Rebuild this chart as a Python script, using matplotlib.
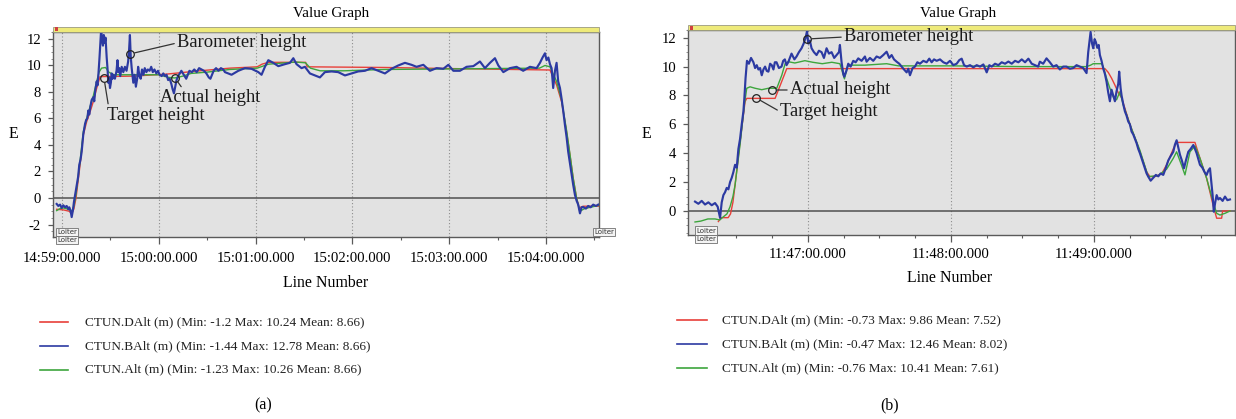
import matplotlib
matplotlib.use("Agg")
import matplotlib.pyplot as plt
from matplotlib.patches import Rectangle
from matplotlib.lines import Line2D
from matplotlib.ticker import FixedLocator, FixedFormatter, MultipleLocator

plt.rcParams['font.family'] = ['Liberation Serif', 'DejaVu Serif']
plt.rcParams['axes.unicode_minus'] = False

# ---------------------------------------------------------------- data (a)
# time in seconds after 14:59:00
a_tick_sec = [0, 60, 120, 180, 240, 300]
a_tick_labels = ['14:59:00.000', '15:00:00.000', '15:01:00.000',
                 '15:02:00.000', '15:03:00.000', '15:04:00.000']

a_dalt_t = [-3.3, 1.0, 4.5, 6.0, 7.4, 8.7, 11.2, 13.2, 15.3, 17.4, 19.4, 21.5,
            23.6, 44.2, 64.9, 85.5, 104, 121, 124, 128, 151, 152, 200, 250,
            302.5, 306.6, 309.7, 312.8, 314.9, 316.9, 319.0, 320.6, 323, 333]
a_dalt_v = [-0.85, -0.9, -1.0, -1.2, -0.8, 0.0, 2.5, 4.75, 5.76, 6.5, 7.27, 8.28,
            9.16, 9.2, 9.35, 9.6, 9.8, 9.9, 10.1, 10.24, 10.24, 9.9, 9.85, 9.75,
            9.66, 8.53, 7.27, 5.0, 3.25, 1.49, 0.0, -0.75, -0.62, -0.62]

a_alt_t = [-3.3, -1.2, 1.0, 3.9, 6.0, 7.4, 8.7, 11.2, 13.2, 15.3, 17.4, 19.4,
           21.5, 23.0, 24.5, 27.0, 29.0, 32.0, 45, 60, 66, 70, 75, 80, 90, 104,
           121, 128, 145, 151, 154, 160, 175, 200, 250, 296, 299.4, 302.5,
           306.6, 309.7, 312.8, 314.9, 316.9, 319.0, 321.0, 324.0, 333]
a_alt_v = [-0.95, -0.8, -0.75, -0.85, -1.0, -0.6, 0.3, 2.8, 5.0, 6.0, 6.9, 7.7,
           8.8, 9.5, 9.8, 9.85, 9.5, 9.3, 9.3, 9.3, 9.1, 9.06, 9.2, 9.4, 9.5, 9.7,
           9.8, 10.1, 10.26, 10.2, 9.8, 9.6, 9.6, 9.7, 9.75, 9.8, 10.0, 9.9,
           8.8, 7.4, 5.1, 3.3, 1.5, 0.0, -1.0, -0.8, -0.55]

a_balt_t = [-3.3, -2.3, -1.2, -0.2, 0.8, 1.9, 2.9, 3.9, 4.5, 5.3, 6.0, 6.8, 7.4,
            8.2, 9.1, 10.0, 10.7, 11.5, 12.2, 13.2, 14.3, 15.0, 15.7, 16.3, 16.9,
            17.6, 18.4, 19.4, 20.0, 20.5, 21.5, 22.0, 22.5, 23.2, 23.8, 24.3,
            24.8, 25.4, 25.9, 26.5, 27.0, 27.7, 28.2, 28.7, 29.2, 29.75, 30.3,
            30.8, 31.3, 31.8, 32.8, 33.8, 34.4, 34.9, 35.5, 36.1, 37.0, 38.0,
            39.0, 40.0, 41.0, 41.6, 42.1, 42.6, 43.2, 44.2, 45.0, 45.8, 46.6,
            47.2, 48.0, 48.8, 49.6, 50.5, 51.3, 52.3, 53.2, 54.3, 55.3, 56.3,
            57.3, 58.5, 59.5, 60.5, 61.8, 62.8, 63.8, 64.8, 65.8, 66.8, 67.8,
            68.6, 69.4, 70.2, 71.0, 72.0, 73.0, 74.0, 75.0, 76.0, 77.0, 78.0,
            79.0, 80.5, 82.0, 83.5, 85.0, 86.5, 88.0, 89.5, 91.0, 92.0, 93.0,
            94.0, 95.5, 97.0, 98.5, 100.0, 101.0, 105.1, 109.3, 113.4, 117.5,
            121.7, 123.7, 125.8, 127.9, 131.0, 134.1, 138.2, 141.3, 143.4, 145.4,
            148.5, 150.6, 153.7, 156.8, 159.9, 163.0, 167.1, 171.2, 175.4, 179.5,
            183.6, 187.8, 191.9, 196.0, 200.2, 204.3, 208.4, 212.6, 216.7, 219.8,
            224.0, 228.1, 232.2, 236.4, 239.5, 242.6, 246.7, 250.8, 255.0, 259.1,
            262.2, 265.3, 268.4, 270.5, 273.6, 277.7, 281.8, 285.9, 290.1, 294.2,
            296.3, 297.9, 299.4, 300.4, 301.5, 302.5, 303.5, 304.5, 305.6, 306.6,
            307.6, 308.7, 309.7, 310.7, 311.8, 312.8, 313.8, 314.9, 315.9, 316.9,
            318.0, 319.0, 320.0, 321.1, 322.1, 323.1, 324.8, 326.2, 327.7, 329.3,
            331.0, 332.4]
a_balt_v = [-0.45, -0.6, -0.5, -0.75, -0.55, -0.7, -0.6, -0.85, -0.7, -0.95, -1.44,
            -0.9, -0.3, 0.3, 1.0, 1.6, 2.5, 2.9, 3.5, 4.8, 5.6, 5.9, 6.0, 6.6, 6.3,
            6.9, 7.4, 7.6, 7.3, 8.0, 8.8, 8.5, 9.2, 10.5, 11.8, 12.78, 11.9, 11.5,
            12.3, 11.7, 12.1, 10.6, 9.8, 8.7, 9.1, 8.3, 8.7, 9.4, 9.0, 9.3, 9.0,
            9.6, 10.4, 9.5, 9.8, 9.2, 9.9, 9.5, 9.9, 9.6, 10.3, 11.2, 12.3, 10.7,
            9.8, 8.7, 9.3, 8.4, 9.0, 9.9, 9.2, 9.0, 9.7, 9.3, 9.8, 9.5, 9.7, 9.6,
            9.9, 9.5, 9.7, 9.4, 9.6, 9.3, 9.2, 9.4, 9.2, 9.3, 8.9, 9.0, 8.6, 8.2,
            7.9, 8.4, 8.9, 9.2, 9.4, 9.6, 9.4, 9.2, 9.0, 9.3, 9.6, 9.5, 9.7, 9.5,
            9.8, 9.7, 9.6, 9.4, 9.1, 9.0, 9.3, 9.6, 9.8, 9.6, 9.8, 9.7, 9.5, 9.3,
            9.6, 9.8, 9.75, 9.5, 9.3, 9.9, 10.4, 10.2, 9.95, 10.1, 10.2, 10.55,
            10.1, 9.8, 9.9, 9.4, 9.25, 9.1, 9.5, 9.55, 9.5, 9.25, 9.4, 9.55, 9.6,
            9.8, 9.6, 9.4, 9.75, 10.0, 10.2, 10.05, 9.9, 10.05, 9.6, 9.8, 9.75,
            10.05, 9.6, 9.6, 9.9, 9.95, 10.3, 9.8, 10.2, 10.55, 10.0, 9.5, 9.8, 9.9,
            9.6, 9.9, 9.8, 10.2, 10.6, 10.92, 10.4, 10.6, 10.1, 9.8, 8.3, 9.6, 10.2,
            8.8, 8.3, 7.5, 6.6, 5.5, 4.6, 3.5, 2.6, 1.74, 1.0, 0.23, -0.2, -0.5,
            -1.16, -0.7, -0.68, -0.8, -0.6, -0.7, -0.5, -0.6, -0.5]

a_legend = ['CTUN.DAlt (m) (Min: -1.2 Max: 10.24 Mean: 8.66)',
            'CTUN.BAlt (m) (Min: -1.44 Max: 12.78 Mean: 8.66)',
            'CTUN.Alt (m) (Min: -1.23 Max: 10.26 Mean: 8.66)']

# ---------------------------------------------------------------- data (b)
# time in seconds after 11:46:00
b_tick_sec = [60, 120, 180]
b_tick_labels = ['11:47:00.000', '11:48:00.000', '11:49:00.000']

b_dalt_t = [22.4, 23.5, 26.5, 27.5, 28.5, 29.4, 31.5, 33.6, 34.3, 46.2, 51.1,
            184.6, 186.0, 187.4, 188.8, 190.2, 191.6, 195.1, 199.3, 202.1, 203.5,
            206.0, 208.5, 210.5, 213.3, 214.7, 222.4, 224.5, 227.3, 230.0, 231.5,
            233.6, 234.0, 237.1]
b_dalt_v = [-0.73, -0.46, -0.46, -0.2, 0.6, 1.8, 4.8, 7.57, 7.8, 7.8, 9.86,
            9.86, 9.6, 9.2, 8.72, 8.2, 7.85, 6.0, 4.1, 2.72, 2.38,
            2.4, 2.6, 3.2, 4.3, 4.75, 4.75, 3.65, 2.26, 0.41, -0.5,
            -0.5, 0.0, 0.0]

b_alt_t = [12.6, 15, 18, 21, 23, 24.5, 26, 27.3, 28.5, 29.4, 31.5, 33.3, 34.3,
           35.7, 37.8, 40.6, 43.4, 46.9, 49.0, 50.4, 51.7, 54.5, 58.7, 62, 66,
           70, 73.4, 74.4, 75.3, 76.6, 78.0, 83.9, 93, 98, 120, 150, 176.9,
           178.6, 179.7, 183.2, 183.9, 185.3, 186.7, 188.1, 189.5, 190.9, 192.3,
           195.1, 199.3, 202.8, 207, 210.5, 213.3, 214.7, 216.7, 218.2, 220.3,
           222.4, 224.5, 227.3, 230.0, 231.5, 232.9, 235.0, 237.1]
b_alt_v = [-0.76, -0.7, -0.55, -0.55, -0.62, -0.4, -0.2, 0.3, 1.0, 1.8, 4.6, 7.35,
           8.5, 8.6, 8.5, 8.4, 8.5, 8.5, 9.4, 10.2, 10.34, 10.25, 10.41, 10.3,
           10.2, 10.3, 10.2, 9.65, 9.15, 10.0, 10.1, 10.1, 10.2, 10.05, 10.05,
           10.0, 10.0, 10.1, 10.2, 10.2, 10.0, 9.2, 8.5, 7.9, 7.7, 8.26, 7.35,
           6.0, 4.2, 2.38, 2.45, 2.9, 3.65, 4.1, 3.2, 2.5, 4.1, 4.5, 3.65, 2.26,
           0.65, -0.16, -0.28, -0.16, 0.0]

b_balt_t = [12.6, 14.0, 15.4, 16.8, 18.2, 19.6, 21.0, 22.1, 23.1, 23.8, 24.5, 25.2,
            25.9, 26.6, 27.3, 28.0, 28.7, 29.4, 30.1, 30.8, 31.5, 32.2, 32.9, 33.3,
            33.8, 34.4, 35.2, 36.1, 37.1, 37.8, 38.5, 39.2, 39.9, 40.6, 41.3, 42.0,
            42.7, 43.4, 44.1, 44.8, 45.5, 46.1, 46.8, 47.8, 48.9, 49.6, 50.3, 51.0,
            51.7, 52.4, 53.1, 54.3, 55.2, 56.2, 57.3, 58.2, 59.0, 59.6, 60.1, 60.8,
            61.5, 62.5, 63.6, 64.6, 65.7, 66.7, 67.8, 68.8, 69.9, 71.0, 72.0, 73.0,
            73.4, 74.1, 74.8, 75.2, 76.1, 76.9, 77.9, 79.0, 80.0, 81.1, 82.5, 83.9,
            84.6, 86.0, 87.4, 88.8, 90.2, 91.6, 93.0, 94.1, 95.1, 96.1, 97.2, 98.3,
            99.3, 100.3, 101.4, 102.1, 102.8, 103.9, 104.9, 105.9, 107.0, 108.4,
            109.8, 110.9, 111.9, 112.9, 114.0, 115.4, 116.8, 118.2, 119.6, 121.0,
            122.4, 123.5, 124.5, 125.5, 126.6, 128.0, 129.4, 130.8, 132.2, 133.6,
            135.0, 136.1, 137.1, 138.5, 139.9, 141.3, 142.7, 144.1, 145.5, 146.9,
            148.3, 149.7, 151.1, 152.5, 153.9, 155.2, 156.6, 157.3, 158.7, 160.1,
            161.5, 162.9, 164.3, 165.7, 167.1, 168.5, 169.9, 171.3, 172.7, 174.1,
            175.5, 176.9, 177.6, 178.6, 179.2, 179.7, 180.3, 180.8, 181.4, 182.0,
            182.5, 183.2, 183.9, 184.6, 185.3, 186.0, 186.7, 187.4, 188.1, 188.8,
            189.5, 190.2, 190.6, 191.2, 191.6, 192.3, 193.0, 193.7, 194.4, 195.1,
            195.8, 196.5, 197.2, 197.9, 198.6, 199.3, 200.0, 200.7, 201.4, 202.1,
            202.8, 203.8, 204.9, 206.0, 207.0, 208.0, 209.1, 210.2, 211.2, 212.2,
            213.3, 214.0, 214.7, 215.4, 216.1, 216.9, 217.8, 218.6, 219.6, 220.6,
            221.7, 222.4, 223.1, 223.8, 224.5, 225.5, 226.4, 227.3, 228.0, 228.7,
            229.4, 229.8, 230.3, 230.9, 231.5, 232.2, 232.9, 234.0, 235.0, 236.0,
            237.1]
b_balt_v = [0.65, 0.5, 0.7, 0.45, 0.6, 0.4, 0.55, 0.3, -0.47, 0.6, 1.1, 1.3,
            1.6, 1.5, 2.0, 2.3, 2.7, 3.2, 3.0, 4.3, 5.0, 6.0, 6.9, 7.8,
            9.2, 10.4, 10.2, 10.6, 10.3, 9.9, 10.1, 9.8, 9.9, 9.4, 9.8, 10.0,
            9.7, 9.65, 10.2, 10.1, 9.8, 10.3, 10.3, 9.9, 10.0, 10.4, 10.5, 10.1,
            10.3, 10.6, 10.9, 10.5, 10.7, 11.0, 11.27, 11.6, 12.0, 12.46, 11.6, 11.8,
            11.27, 11.0, 10.8, 11.1, 11.0, 10.6, 11.27, 10.9, 11.0, 10.6, 10.8, 11.0,
            11.5, 10.3, 9.5, 9.3, 9.7, 10.2, 10.0, 10.4, 10.3, 10.57, 10.4, 10.7,
            10.34, 10.6, 10.4, 10.7, 10.6, 10.8, 11.03, 10.6, 10.8, 10.5, 10.34, 10.2,
            10.0, 9.8, 9.6, 9.85, 9.4, 9.9, 10.0, 10.3, 10.2, 10.4,
            10.3, 10.55, 10.3, 10.5, 10.4, 10.5, 10.3, 10.2, 10.4, 10.1,
            10.2, 10.45, 10.55, 10.1, 10.0, 10.1, 9.95, 10.1, 10.0, 10.15,
            9.6, 10.1, 10.0, 10.2, 10.1, 10.3, 10.2, 10.35, 10.2, 10.4,
            10.3, 10.5, 10.3, 10.55, 10.2, 10.1, 10.0, 10.34, 10.2, 10.57,
            10.3, 10.0, 10.1, 9.8, 10.0, 10.0, 9.85, 9.9, 10.1, 10.0,
            9.9, 9.55, 11.0, 12.4, 11.6, 11.27, 11.9, 11.7, 11.3, 11.5,
            10.8, 10.4, 9.87, 9.5, 8.95, 8.2, 7.6, 8.4, 8.0, 7.6,
            8.3, 8.8, 9.65, 8.5, 8.0, 7.4, 6.9, 6.6, 6.2, 6.0,
            5.5, 5.3, 5.0, 4.7, 4.3, 4.0, 3.65, 3.3, 2.96, 2.6,
            2.38, 2.1, 2.3, 2.5, 2.4, 2.6, 2.5, 3.0, 3.5, 3.8,
            4.1, 4.6, 4.9, 4.4, 3.9, 3.5, 2.96, 3.5, 4.1, 4.3,
            4.57, 4.3, 4.0, 3.6, 3.2, 3.0, 2.7, 2.5, 2.8, 2.96,
            1.8, 1.1, -0.05, 0.6, 1.1, 0.8, 0.9, 0.7, 1.0, 0.75,
            0.8]

b_legend = ['CTUN.DAlt (m) (Min: -0.73 Max: 9.86 Mean: 7.52)',
            'CTUN.BAlt (m) (Min: -0.47 Max: 12.46 Mean: 8.02)',
            'CTUN.Alt (m) (Min: -0.76 Max: 10.41 Mean: 7.61)']

callout_names = ['Barometer height', 'Actual height', 'Target height']

# ---------------------------------------------------------------- styling
W, H = 1236, 419
RED, BLUE, GREEN = '#E8403A', '#2C3AA2', '#3DA63D'
BG = '#E2E2E2'
YELLOW = '#EEEA7A'
FRAME = '#5A5A5A'


def fx(px):
    return px / W


def fy(py):
    return 1 - py / H


fig = plt.figure(figsize=(W / 100, H / 100), dpi=100)
fig.patch.set_facecolor('white')


def make_panel(box, xlim, ylim, yticks, tick_sec, tick_labels, minor_step,
               dalt, balt, alt, xlabel_pad):
    left, top, right, bottom = box
    ax = fig.add_axes([fx(left), fy(bottom), fx(right - left), (bottom - top) / H])
    ax.set_facecolor(BG)
    ax.set_xlim(*xlim)
    ax.set_ylim(*ylim)

    ax.plot(dalt[0], dalt[1], color=RED, lw=1.0, zorder=3)
    ax.plot(alt[0], alt[1], color=GREEN, lw=1.0, zorder=3.5)
    ax.plot(balt[0], balt[1], color=BLUE, lw=1.55, zorder=4)
    ax.axhline(0, color='#505050', lw=1.1, zorder=2)

    ax.xaxis.set_major_locator(FixedLocator(tick_sec))
    ax.xaxis.set_major_formatter(FixedFormatter(tick_labels))
    ax.xaxis.set_minor_locator(MultipleLocator(minor_step))
    ax.set_yticks(yticks)
    ax.yaxis.set_minor_locator(MultipleLocator(0.5))
    ax.grid(axis='x', which='major', color='#8C8C8C', lw=0.8, ls=(0, (1, 2)))
    ax.tick_params(axis='x', which='major', direction='out', length=5, width=0.9,
                   color=FRAME, labelsize=10.6, pad=xlabel_pad)
    ax.tick_params(axis='x', which='minor', direction='out', length=2.5, width=0.8,
                   color=FRAME)
    ax.tick_params(axis='y', which='major', direction='out', length=3.5, width=0.9,
                   color=FRAME, labelsize=10.6, pad=5)
    ax.tick_params(axis='y', which='minor', direction='out', length=1.8, width=0.6,
                   color='#808080')
    for s in ax.spines.values():
        s.set_color(FRAME)
        s.set_linewidth(1.0)

    # status strip along the top of the graph
    strip_h = 5.0 / (bottom - top)
    ax.add_patch(Rectangle((0, 1), 1, strip_h, transform=ax.transAxes,
                           clip_on=False, fc=YELLOW, ec='#9A9A80', lw=0.6, zorder=5))
    ax.add_patch(Rectangle((0.003, 1 + strip_h * 0.15), 0.006, strip_h * 0.7,
                           transform=ax.transAxes, clip_on=False,
                           fc='#D04040', ec='none', zorder=6))
    return ax


def mode_tag(px, py, text):
    fig.text(fx(px), fy(py), text, fontsize=5, family='DejaVu Sans', color='#333333',
             ha='left', va='center',
             bbox=dict(boxstyle='square,pad=0.15', fc='#F4F4F4', ec='#707070', lw=0.6))


def callout(ax, text, xy, xytext, relpos):
    ax.plot([xy[0]], [xy[1]], marker='o', ms=5.5, mfc='none', mec='#222222',
            mew=0.9, zorder=7)
    ax.annotate(text, xy=xy, xytext=xytext, fontsize=13.3, ha='left', va='center',
                color='#1A1A1A', zorder=7,
                arrowprops=dict(arrowstyle='-', color='#333333', lw=0.9,
                                shrinkA=0, shrinkB=3.5, relpos=relpos))


def legend_block(x0, x1, xt, ys, labels):
    for y, lab, col in zip(ys, labels, [RED, BLUE, GREEN]):
        fig.add_artist(Line2D([fx(x0), fx(x1)], [fy(y), fy(y)], color=col, lw=1.2))
        fig.text(fx(xt), fy(y), lab, fontsize=9.5, ha='left', va='center',
                 color='#222222')


# ---------------------------------------------------------------- panel (a)
axa = make_panel((53, 31.7, 599, 237), (-5.58, 332.9), (-2.943, 12.55),
                 [-2, 0, 2, 4, 6, 8, 10, 12], a_tick_sec, a_tick_labels, 30,
                 (a_dalt_t, a_dalt_v), (a_balt_t, a_balt_v), (a_alt_t, a_alt_v), 6)
callout(axa, callout_names[0], (42.1, 10.87), (71.3, 11.7), (0, 0.5))
callout(axa, callout_names[1], (70.0, 9.06), (60.7, 7.55), (0.25, 0.85))
callout(axa, callout_names[2], (26.0, 9.06), (27.9, 6.26), (0.02, 0.85))
fig.text(fx(331), fy(13), 'Value Graph', fontsize=10.9, ha='center', va='center')
fig.text(fx(326), fy(283), 'Line Number', fontsize=11.4, ha='center', va='center')
fig.text(fx(13), fy(134), 'E', fontsize=11.4, ha='center', va='center')
mode_tag(57, 232, 'Loiter')
mode_tag(57, 240, 'Loiter')
mode_tag(594, 232, 'Loiter')
legend_block(40, 68, 85, [322, 346, 369.5], a_legend)
fig.text(fx(263), fy(405), '(a)', fontsize=11.4, ha='center', va='center')

# ---------------------------------------------------------------- panel (b)
axb = make_panel((688, 30.5, 1235, 235), (9.65, 239.2), (-1.662, 12.5),
                 [0, 2, 4, 6, 8, 10, 12], b_tick_sec, b_tick_labels, 15,
                 (b_dalt_t, b_dalt_v), (b_balt_t, b_balt_v), (b_alt_t, b_alt_v), 4.5)
callout(axb, callout_names[0], (59.6, 11.91), (75.1, 12.05), (0, 0.5))
callout(axb, callout_names[1], (44.9, 8.38), (52.4, 8.38), (0, 0.5))
callout(axb, callout_names[2], (38.2, 7.83), (48.3, 6.88), (0, 0.5))
fig.text(fx(958.5), fy(13), 'Value Graph', fontsize=10.9, ha='center', va='center')
fig.text(fx(950), fy(278), 'Line Number', fontsize=11.4, ha='center', va='center')
fig.text(fx(646), fy(134), 'E', fontsize=11.4, ha='center', va='center')
mode_tag(696, 230.5, 'Loiter')
mode_tag(696, 239, 'Loiter')
legend_block(677, 707, 722, [320, 344, 368], b_legend)
fig.text(fx(890), fy(405), '(b)', fontsize=11.4, ha='center', va='center')

fig.savefig('out.png', dpi=100, facecolor='white')
